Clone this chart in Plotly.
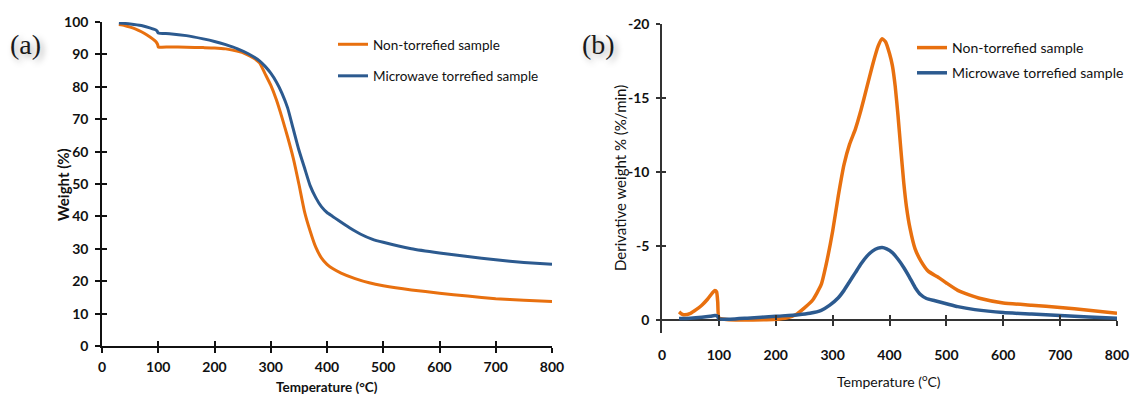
import plotly.graph_objects as go

# ---- TGA (weight loss) data ----
tga_t_raw = [30, 40, 50, 60, 70, 80, 90, 96, 99, 100, 120, 150, 180, 200, 220, 240,
             255, 270, 280, 290, 300, 310, 320, 330, 340, 350, 360, 370, 380, 390,
             400, 410, 425, 450, 475, 500, 550, 600, 650, 700, 750, 800]
tga_w_raw = [99.2, 98.9, 98.4, 97.8, 97.0, 96.0, 94.8, 93.9, 93.0, 92.3, 92.3, 92.2,
             92.1, 92.0, 91.7, 91.0, 90.2, 88.8, 87.4, 84.0, 80.5, 76.0, 70.5, 64.5,
             58.0, 50.0, 41.5, 35.5, 30.5, 27.2, 25.2, 23.9, 22.5, 20.8, 19.5, 18.6,
             17.3, 16.3, 15.4, 14.6, 14.1, 13.7]

tga_t_mw = [30, 50, 70, 85, 95, 98, 100, 120, 150, 180, 200, 220, 240, 260, 280, 290,
            300, 310, 320, 330, 340, 350, 360, 370, 380, 390, 400, 410, 420, 440, 460,
            480, 500, 550, 600, 650, 700, 750, 800]
tga_w_mw = [99.7, 99.4, 98.9, 98.2, 97.6, 97.2, 96.6, 96.4, 95.8, 94.8, 94.0, 93.0,
            91.8, 90.2, 88.0, 86.3, 84.2, 81.5, 78.0, 73.5, 67.0, 60.5, 55.0, 49.5,
            45.8, 43.0, 41.2, 40.0, 38.8, 36.5, 34.5, 33.0, 32.0, 30.0, 28.7, 27.6,
            26.6, 25.8, 25.2]

# ---- DTG (derivative weight) data ----
dtg_t_raw = [30, 35, 40, 50, 60, 70, 80, 88, 93, 96, 98, 100, 110, 130, 160, 200, 220,
             235, 250, 265, 280, 290, 300, 310, 320, 330, 340, 350, 360, 370, 380, 387,
             393, 400, 405, 410, 415, 420, 425, 430, 436, 445, 455, 468, 485, 500, 520,
             540, 560, 600, 650, 700, 750, 800]
dtg_d_raw = [-0.55, -0.4, -0.35, -0.45, -0.7, -1.0, -1.4, -1.8, -2.0, -1.9, -1.2, -0.15,
             -0.05, 0.0, 0.0, -0.05, -0.15, -0.35, -0.8, -1.35, -2.4, -4.0, -6.0, -8.4,
             -10.5, -11.9, -12.9, -14.2, -15.7, -17.2, -18.5, -19.0, -18.8, -18.0, -17.2,
             -15.8, -13.8, -11.5, -9.3, -7.6, -6.2, -4.8, -4.0, -3.3, -2.9, -2.5, -2.0,
             -1.7, -1.45, -1.15, -1.0, -0.85, -0.65, -0.45]

dtg_t_mw = [30, 50, 70, 85, 93, 97, 100, 120, 150, 200, 240, 260, 280, 295, 310, 320,
            330, 340, 350, 360, 370, 380, 387, 395, 405, 415, 425, 435, 445, 455, 465,
            480, 500, 520, 550, 600, 650, 700, 750, 800]
dtg_d_mw = [-0.1, -0.12, -0.18, -0.25, -0.3, -0.28, -0.08, -0.05, -0.12, -0.25, -0.35,
            -0.45, -0.65, -1.0, -1.5, -2.0, -2.6, -3.2, -3.8, -4.3, -4.65, -4.85, -4.9,
            -4.8, -4.55, -4.1, -3.55, -2.9, -2.2, -1.7, -1.45, -1.3, -1.1, -0.9, -0.7,
            -0.5, -0.4, -0.3, -0.2, -0.12]

series_names = ["Non-torrefied sample", "Microwave torrefied sample"]
x_ticks = [0, 100, 200, 300, 400, 500, 600, 700, 800]
w_ticks = [0, 10, 20, 30, 40, 50, 60, 70, 80, 90, 100]
d_ticks = [-20, -15, -10, -5, 0]
d_tick_text = ["-20", "-15", "-10", "-5", "0"]

ORANGE = "#E8700F"
BLUE = "#2C5A8F"
INK = "#111111"
AXIS_B = "#333333"
FONT = "Lato"

W, H = 1132, 394


def px_x(p):
    return p / W


def px_y(p):
    return (H - p) / H


fig = go.Figure()

# Panel (a): weight curves
fig.add_trace(go.Scatter(x=tga_t_raw, y=tga_w_raw, name=series_names[0], mode="lines",
                         line=dict(color=ORANGE, width=3, shape="spline", smoothing=0.5),
                         xaxis="x", yaxis="y", legend="legend", legendgroup="a1"))
fig.add_trace(go.Scatter(x=tga_t_mw, y=tga_w_mw, name=series_names[1], mode="lines",
                         line=dict(color=BLUE, width=3, shape="spline", smoothing=0.5),
                         xaxis="x", yaxis="y", legend="legend", legendgroup="a2"))

# Panel (b): derivative curves
fig.add_trace(go.Scatter(x=dtg_t_raw, y=dtg_d_raw, name=series_names[0], mode="lines",
                         line=dict(color=ORANGE, width=3.5, shape="spline", smoothing=0.5),
                         xaxis="x2", yaxis="y2", legend="legend2", legendgroup="b1"))
fig.add_trace(go.Scatter(x=dtg_t_mw, y=dtg_d_mw, name=series_names[1], mode="lines",
                         line=dict(color=BLUE, width=3.5, shape="spline", smoothing=0.5),
                         xaxis="x2", yaxis="y2", legend="legend2", legendgroup="b2"))

# empty traces so the tick-only overlay axes get their own subplots
for xa, ya in [("x3", "y"), ("x", "y3"), ("x2", "y4"), ("x4", "y2"), ("x5", "y2")]:
    fig.add_trace(go.Scatter(x=[], y=[], xaxis=xa, yaxis=ya, showlegend=False,
                             hoverinfo="skip", mode="lines"))

tick_font = dict(family=FONT, size=14, color=INK, weight="bold")

# geometry of the two plotting areas
a_x = [px_x(102), px_x(552)]
a_y = [px_y(346), px_y(22)]
b_x = [px_x(662), px_x(1117)]
b_y = [px_y(333), px_y(24)]
b_range = [0.88, -20]
# paper position of the zero line in panel (b)
b_zero = b_y[0] + (b_y[1] - b_y[0]) * (0 - b_range[0]) / (b_range[1] - b_range[0])

fig.update_layout(
    width=W, height=H,
    margin=dict(l=0, r=0, t=0, b=0, autoexpand=False),
    paper_bgcolor="white", plot_bgcolor="white",
    font=dict(family=FONT, color=INK),
    # panel (a) axes
    xaxis=dict(domain=a_x, anchor="y", range=[0, 800], tickvals=x_ticks, automargin=False,
               showgrid=False, zeroline=False, showline=True, linecolor=INK, linewidth=1.5,
               ticks="outside", ticklen=5, tickwidth=1.5, tickcolor=INK,
               tickfont=tick_font, ticklabelstandoff=2),
    yaxis=dict(domain=a_y, anchor="x", range=[0, 100], tickvals=w_ticks, automargin=False,
               showgrid=False, zeroline=False, showline=True, linecolor=INK, linewidth=1.5,
               ticks="outside", ticklen=5, tickwidth=1.5, tickcolor=INK,
               tickfont=tick_font, ticklabelstandoff=4),
    xaxis3=dict(overlaying="x", anchor="y", range=[0, 800], tickvals=x_ticks,
                automargin=False,
                showgrid=False, zeroline=False, showline=False, showticklabels=False,
                ticks="inside", ticklen=5, tickwidth=1.5, tickcolor=INK),
    yaxis3=dict(overlaying="y", anchor="x", range=[0, 100], tickvals=w_ticks,
                automargin=False,
                showgrid=False, zeroline=False, showline=False, showticklabels=False,
                ticks="inside", ticklen=5, tickwidth=1.5, tickcolor=INK),
    # panel (b) axes
    xaxis2=dict(domain=b_x, anchor="y2", range=[0, 800], tickvals=x_ticks,
                automargin=False,
                showgrid=False, zeroline=False, showline=False,
                ticks="outside", ticklen=9, tickcolor="rgba(0,0,0,0)",
                tickfont=tick_font),
    yaxis2=dict(domain=b_y, anchor="x2", range=b_range, tickvals=d_ticks,
                ticktext=d_tick_text, automargin=False,
                showgrid=False, zeroline=True, zerolinecolor=AXIS_B, zerolinewidth=1.5,
                showline=True, linecolor=AXIS_B, linewidth=1.5,
                ticks="outside", ticklen=4, tickwidth=1.5, tickcolor=AXIS_B,
                tickfont=tick_font, ticklabelstandoff=4),
    yaxis4=dict(overlaying="y2", anchor="x2", range=b_range, tickvals=d_ticks,
                automargin=False,
                showgrid=False, zeroline=False, showline=False, showticklabels=False,
                ticks="inside", ticklen=4, tickwidth=1.5, tickcolor=AXIS_B),
    xaxis4=dict(overlaying="x2", anchor="free", position=b_zero, range=[0, 800],
                tickvals=x_ticks[1:], automargin=False,
                showgrid=False, zeroline=False, showline=False,
                showticklabels=False, ticks="outside", ticklen=5, tickwidth=1.5,
                tickcolor=AXIS_B),
    xaxis5=dict(overlaying="x2", anchor="free", position=b_zero, range=[0, 800],
                tickvals=x_ticks[1:], automargin=False,
                showgrid=False, zeroline=False, showline=False,
                showticklabels=False, ticks="inside", ticklen=5, tickwidth=1.5,
                tickcolor=AXIS_B),
    legend=dict(x=px_x(333), y=px_y(29), xanchor="left", yanchor="top",
                bgcolor="rgba(0,0,0,0)", itemwidth=30, traceorder="grouped",
                tracegroupgap=11, font=dict(family=FONT, size=13.5, color=INK)),
    legend2=dict(x=px_x(912), y=px_y(32), xanchor="left", yanchor="top",
                 bgcolor="rgba(0,0,0,0)", itemwidth=30, traceorder="grouped",
                 tracegroupgap=4, font=dict(family=FONT, size=14, color=INK)),
    annotations=[
        # axis titles
        dict(text="Weight (%)", x=px_x(63), y=px_y(185), xref="paper", yref="paper",
             xanchor="center", yanchor="middle", textangle=-90, showarrow=False,
             font=dict(family=FONT, size=15, color=INK, weight="bold")),
        dict(text="Temperature (°C)", x=px_x(327), y=px_y(387), xref="paper",
             yref="paper", xanchor="center", yanchor="middle", showarrow=False,
             font=dict(family=FONT, size=13.5, color=INK, weight="bold")),
        dict(text="Derivative weight % (%/min)", x=px_x(620), y=px_y(178),
             xref="paper", yref="paper", xanchor="center", yanchor="middle",
             textangle=-90, showarrow=False,
             font=dict(family=FONT, size=15, color=INK)),
        dict(text="Temperature (<sup>o</sup>C)", x=px_x(889), y=px_y(380), xref="paper",
             yref="paper", xanchor="center", yanchor="middle", showarrow=False,
             font=dict(family=FONT, size=14, color=INK)),
        # panel letters
        dict(text="(a)", x=px_x(8), y=px_y(44), xref="paper", yref="paper",
             xanchor="left", yanchor="middle", showarrow=False,
             font=dict(family="Liberation Serif", size=28, color="#1a1a1a",
                       shadow="3px 3px 6px rgba(0,0,0,0.35)")),
        dict(text="(b)", x=px_x(580), y=px_y(44), xref="paper", yref="paper",
             xanchor="left", yanchor="middle", showarrow=False,
             font=dict(family="Liberation Serif", size=28, color="#1a1a1a",
                       shadow="3px 3px 6px rgba(0,0,0,0.35)")),
    ],
)

fig.write_html("out.html")
